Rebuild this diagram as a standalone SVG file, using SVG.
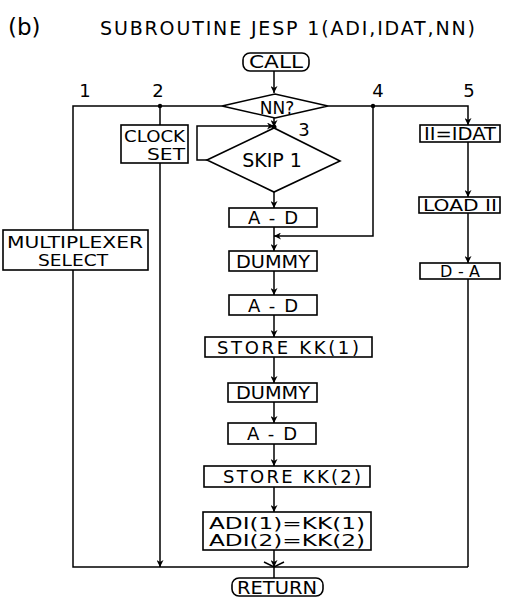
<svg xmlns="http://www.w3.org/2000/svg" width="522" height="597" viewBox="0 0 522 597">
<style>
  .b{fill:#fff;stroke:#000;stroke-width:1.6}
  .l{fill:none;stroke:#000;stroke-width:1.5}
  .t{font-family:"DejaVu Sans","Liberation Sans",sans-serif;font-size:18px;fill:#000}
  .s{font-size:15px}
  .c{text-anchor:middle}
</style>
<defs>
  <marker id="ah" viewBox="0 0 10 10" refX="10" refY="5" markerWidth="7" markerHeight="7" orient="auto" markerUnits="userSpaceOnUse">
    <path d="M0,0 L10,5 L0,10 L3,5 Z" fill="#000"/>
  </marker>
</defs>
<g id="title">
  <text class="t" x="8" y="35" style="font-size:23px">(b)</text>
  <text class="t" x="100" y="35" textLength="375" lengthAdjust="spacing" style="font-size:19px">SUBROUTINE JESP 1(ADI,IDAT,NN)</text>
</g>
<g id="labels">
  <text class="t c" x="85" y="97">1</text>
  <text class="t c" x="158" y="97">2</text>
  <text class="t c" x="304" y="136">3</text>
  <text class="t c" x="378" y="97">4</text>
  <text class="t c" x="469" y="97">5</text>
</g>
<g id="connectors">
  <path class="l" d="M274,71 V93" marker-end="url(#ah)"/>
  <path class="l" d="M222,106 H73 V230"/>
  <path class="l" d="M73,270 V567 H468"/>
  <path class="l" d="M160,106 V125"/>
  <path class="l" d="M160,163 V567" marker-end="url(#ah)"/>
  <path class="l" d="M328,106 H468 V125" marker-end="url(#ah)"/>
  <path class="l" d="M373,106 V236 H274" marker-end="url(#ah)"/>
  <path class="l" d="M274,117 V127" marker-end="url(#ah)"/>
  <path class="l" d="M207,160 H197 V126 H274" marker-end="url(#ah)"/>
  <path class="l" d="M274,192 V208" marker-end="url(#ah)"/>
  <path class="l" d="M274,227 V251" marker-end="url(#ah)"/>
  <path class="l" d="M274,271 V295" marker-end="url(#ah)"/>
  <path class="l" d="M274,315 V337" marker-end="url(#ah)"/>
  <path class="l" d="M274,357 V383" marker-end="url(#ah)"/>
  <path class="l" d="M274,402 V423" marker-end="url(#ah)"/>
  <path class="l" d="M274,444 V466" marker-end="url(#ah)"/>
  <path class="l" d="M274,487 V512" marker-end="url(#ah)"/>
  <path class="l" d="M274,550 V567" marker-end="url(#ah)"/>
  <path class="l" d="M274,567 V578"/>
  <path class="l" d="M264,562 L274,567 L284,562"/>
  <path class="l" d="M468,142 V197" marker-end="url(#ah)"/>
  <path class="l" d="M468,213 V263" marker-end="url(#ah)"/>
  <path class="l" d="M468,279 V567"/>
  <circle cx="160" cy="106" r="2.2"/>
  <circle cx="373" cy="106" r="2.2"/>
  <circle cx="274" cy="127" r="2.5"/>
</g>
<g id="call">
  <rect class="b" x="243" y="53" width="66" height="18" rx="7"/>
  <text class="t c" x="276" y="68" textLength="54" lengthAdjust="spacingAndGlyphs">CALL</text>
</g>
<g id="nn">
  <path class="b" d="M222,106 L275,94 L328,106 L275,118 Z"/>
  <text class="t c" x="277" y="114" style="font-size:17px">NN?</text>
</g>
<g id="clockset">
  <rect class="b" x="121" y="125" width="67" height="38"/>
  <text class="t s" x="124" y="142" textLength="61" lengthAdjust="spacingAndGlyphs">CLOCK</text>
  <text class="t s" x="185" y="160" text-anchor="end" textLength="38" lengthAdjust="spacingAndGlyphs">SET</text>
</g>
<g id="skip">
  <path class="b" d="M207,160 L274,128 L340,161 L274,192 Z"/>
  <text class="t c" x="272" y="167" style="font-size:19px">SKIP 1</text>
</g>
<g id="multiplexer">
  <rect class="b" x="3" y="230" width="145" height="40"/>
  <text class="t c s" x="75" y="248" textLength="136" lengthAdjust="spacingAndGlyphs">MULTIPLEXER</text>
  <text class="t c s" x="73" y="266" textLength="70" lengthAdjust="spacingAndGlyphs">SELECT</text>
</g>
<g id="ad1">
  <rect class="b" x="229" y="208" width="88" height="19"/>
  <text class="t c" x="273" y="224" textLength="50" lengthAdjust="spacing">A-D</text>
</g>
<g id="dummy1">
  <rect class="b" x="229" y="251" width="88" height="20"/>
  <text class="t c" x="273" y="268" textLength="74" lengthAdjust="spacingAndGlyphs">DUMMY</text>
</g>
<g id="ad2">
  <rect class="b" x="229" y="295" width="88" height="20"/>
  <text class="t c" x="273" y="312" textLength="50" lengthAdjust="spacing">A-D</text>
</g>
<g id="store1">
  <rect class="b" x="205" y="337" width="167" height="20"/>
  <text class="t c" x="288" y="354" textLength="142" lengthAdjust="spacing">STORE KK(1)</text>
</g>
<g id="dummy2">
  <rect class="b" x="228" y="383" width="89" height="19"/>
  <text class="t c" x="273" y="399" textLength="74" lengthAdjust="spacingAndGlyphs">DUMMY</text>
</g>
<g id="ad3">
  <rect class="b" x="228" y="423" width="88" height="21"/>
  <text class="t c" x="272" y="440" textLength="50" lengthAdjust="spacing">A-D</text>
</g>
<g id="store2">
  <rect class="b" x="204" y="466" width="166" height="21"/>
  <text class="t c" x="292" y="483" textLength="138" lengthAdjust="spacing">STORE KK(2)</text>
</g>
<g id="adi">
  <rect class="b" x="203" y="512" width="168" height="38"/>
  <text class="t c s" x="287" y="529" textLength="156" lengthAdjust="spacingAndGlyphs">ADI(1)=KK(1)</text>
  <text class="t c s" x="287" y="546" textLength="156" lengthAdjust="spacingAndGlyphs">ADI(2)=KK(2)</text>
</g>
<g id="return">
  <rect class="b" x="232" y="578" width="91" height="18" rx="7"/>
  <text class="t c" x="277" y="594" textLength="80" lengthAdjust="spacingAndGlyphs">RETURN</text>
</g>
<g id="iidat">
  <rect class="b" x="420" y="125" width="80" height="17"/>
  <text class="t c" x="460" y="140" style="font-size:17px" textLength="72" lengthAdjust="spacingAndGlyphs">II=IDAT</text>
</g>
<g id="load">
  <rect class="b" x="419" y="197" width="81" height="16"/>
  <text class="t c" x="460" y="211" style="font-size:16px" textLength="74" lengthAdjust="spacingAndGlyphs">LOAD II</text>
</g>
<g id="da">
  <rect class="b" x="420" y="263" width="80" height="16"/>
  <text class="t c" x="460" y="277" style="font-size:16px" textLength="40" lengthAdjust="spacing">D-A</text>
</g>
</svg>
